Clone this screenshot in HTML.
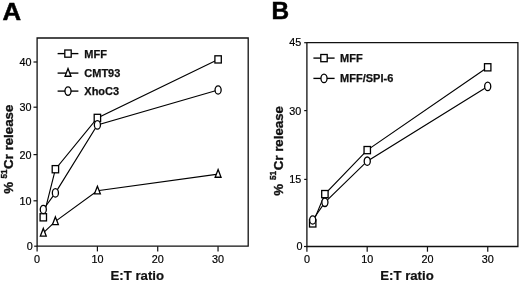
<!DOCTYPE html>
<html><head><meta charset="utf-8"><title>Figure</title>
<style>
html,body{margin:0;padding:0;background:#fff;}
body{width:520px;height:283px;overflow:hidden;}
svg{display:block;will-change:transform;font-family:"Liberation Sans",sans-serif;}
.ax{stroke:#111;stroke-width:1.3;fill:none;}
.tk{stroke:#111;stroke-width:1.2;fill:none;}
.ln{stroke:#000;stroke-width:1.15;fill:none;}
.mk{stroke:#000;stroke-width:1.3;fill:#fff;}
.tl{font-size:10.8px;fill:#000;stroke:#000;stroke-width:0.2;}
.lg{font-size:11px;font-weight:bold;fill:#111;stroke:#111;stroke-width:0.25;}
.at{font-size:13.3px;font-weight:bold;fill:#111;stroke:#111;stroke-width:0.35;}
.xt{font-size:13.2px;font-weight:bold;fill:#111;stroke:#111;stroke-width:0.2;}
.at.sup{font-size:8.2px;stroke-width:0.4;}
.pl{font-size:24.4px;font-weight:bold;fill:#000;stroke:#000;stroke-width:0.5;}
</style></head><body>
<svg width="520" height="283" viewBox="0 0 520 283">
<rect x="0" y="0" width="520" height="283" fill="#fff"/>

<text class="pl" transform="translate(2.45 20.0) scale(1.056 1)">A</text>
<path class="ax" d="M37.1 38.0H248.2V246.2H37.1Z"/>
<path class="tk" d="M37.1 246.2V251.4"/>
<text class="tl" x="37.1" y="263" text-anchor="middle">0</text>
<path class="tk" d="M97.41 246.2V251.4"/>
<text class="tl" x="97.41" y="263" text-anchor="middle">10</text>
<path class="tk" d="M157.73 246.2V251.4"/>
<text class="tl" x="157.73" y="263" text-anchor="middle">20</text>
<path class="tk" d="M218.04 246.2V251.4"/>
<text class="tl" x="218.04" y="263" text-anchor="middle">30</text>
<path class="tk" d="M34.2 246.2H37.1"/>
<text class="tl" x="32.7" y="250" text-anchor="end">0</text>
<path class="tk" d="M33.5 200.8H37.1"/>
<text class="tl" x="31.5" y="205" text-anchor="end">10</text>
<path class="tk" d="M33.5 154.6H37.1"/>
<text class="tl" x="31.5" y="159" text-anchor="end">20</text>
<path class="tk" d="M33.5 107.2H37.1"/>
<text class="tl" x="31.5" y="111" text-anchor="end">30</text>
<path class="tk" d="M33.5 62H37.1"/>
<text class="tl" x="31.5" y="66" text-anchor="end">40</text>
<path class="ln" d="M43.3 217.3L55.4 169.2L97.4 117.9L218.1 59.4"/>
<path class="ln" d="M43.3 209.5L55.4 192.9L97.4 124.9L218.1 90"/>
<path class="ln" d="M43.3 232.9L55.4 221.4L97.4 190.7L218.1 174.1"/>
<rect class="mk" x="40.1" y="213.7" width="6.4" height="7.2"/>
<rect class="mk" x="52.2" y="165.6" width="6.4" height="7.2"/>
<rect class="mk" x="94.2" y="114.3" width="6.4" height="7.2"/>
<rect class="mk" x="214.9" y="55.8" width="6.4" height="7.2"/>
<ellipse class="mk" cx="43.3" cy="209.5" rx="3.05" ry="4.2"/>
<ellipse class="mk" cx="55.4" cy="192.9" rx="3.05" ry="4.2"/>
<ellipse class="mk" cx="97.4" cy="124.9" rx="3.05" ry="4.2"/>
<ellipse class="mk" cx="218.1" cy="90" rx="3.05" ry="4.2"/>
<path class="mk" d="M43.3 228.4L46.25 236.05L40.35 236.05Z"/>
<path class="mk" d="M55.4 216.9L58.35 224.55L52.45 224.55Z"/>
<path class="mk" d="M97.4 186.2L100.35 193.85L94.45 193.85Z"/>
<path class="mk" d="M218.1 169.6L221.05 177.25L215.15 177.25Z"/>
<path class="ln" style="stroke-width:1.35" d="M57.6 53.6H78.4"/>
<rect class="mk" x="64.8" y="50" width="6.4" height="7.2"/>
<text class="lg" x="84.3" y="57.5">MFF</text>
<path class="ln" style="stroke-width:1.35" d="M57.6 73.1H78.4"/>
<path class="mk" d="M68 68.6L70.95 76.25L65.05 76.25Z"/>
<text class="lg" x="84.3" y="77">CMT93</text>
<path class="ln" style="stroke-width:1.35" d="M57.6 91.1H78.4"/>
<ellipse class="mk" cx="68" cy="91.1" rx="3.05" ry="4.2"/>
<text class="lg" x="84.3" y="95">XhoC3</text>
<text class="xt" x="137.3" y="280.3" text-anchor="middle">E:T ratio</text>
<text class="at" transform="translate(13.3 193.7) rotate(-90)">%</text>
<text class="at sup" transform="translate(7.1 178.6) rotate(-90)">51</text>
<text class="at" transform="translate(13.3 169) rotate(-90)">Cr release</text>
<text class="pl" transform="translate(271.4 18.7) scale(1 1)">B</text>
<path class="ax" d="M306.9 42.7H517.9V246.5H306.9Z"/>
<path class="tk" d="M306.9 246.5V251.7"/>
<text class="tl" x="306.9" y="263" text-anchor="middle">0</text>
<path class="tk" d="M367.19 246.5V251.7"/>
<text class="tl" x="367.19" y="263" text-anchor="middle">10</text>
<path class="tk" d="M427.47 246.5V251.7"/>
<text class="tl" x="427.47" y="263" text-anchor="middle">20</text>
<path class="tk" d="M487.76 246.5V251.7"/>
<text class="tl" x="487.76" y="263" text-anchor="middle">30</text>
<path class="tk" d="M304 246.5H306.9"/>
<text class="tl" x="302.5" y="250" text-anchor="end">0</text>
<path class="tk" d="M304.2 179.4H306.9"/>
<text class="tl" x="301.3" y="183" text-anchor="end">15</text>
<path class="tk" d="M304.2 110.6H306.9"/>
<text class="tl" x="301.3" y="115" text-anchor="end">30</text>
<path class="tk" d="M304.2 42.7H306.9"/>
<text class="tl" x="301.3" y="46" text-anchor="end">45</text>
<path class="ln" d="M312.7 223.4L324.9 194.1L367.25 150.1L487.7 67.3"/>
<path class="ln" d="M312.7 220L324.9 202.3L367.25 161.2L487.7 86.4"/>
<rect class="mk" x="309.5" y="219.8" width="6.4" height="7.2"/>
<rect class="mk" x="321.7" y="190.5" width="6.4" height="7.2"/>
<rect class="mk" x="364.05" y="146.5" width="6.4" height="7.2"/>
<rect class="mk" x="484.5" y="63.7" width="6.4" height="7.2"/>
<ellipse class="mk" cx="312.7" cy="220" rx="3.05" ry="4.2"/>
<ellipse class="mk" cx="324.9" cy="202.3" rx="3.05" ry="4.2"/>
<ellipse class="mk" cx="367.25" cy="161.2" rx="3.05" ry="4.2"/>
<ellipse class="mk" cx="487.7" cy="86.4" rx="3.05" ry="4.2"/>
<path class="ln" style="stroke-width:1.35" d="M313.4 58.1H334.6"/>
<rect class="mk" x="320.8" y="54.5" width="6.4" height="7.2"/>
<text class="lg" x="340.1" y="62">MFF</text>
<path class="ln" style="stroke-width:1.35" d="M313.4 78.4H334.6"/>
<ellipse class="mk" cx="324" cy="78.4" rx="3.05" ry="4.2"/>
<text class="lg" x="340.1" y="82.3">MFF/SPI-6</text>
<text class="xt" x="407" y="280.3" text-anchor="middle">E:T ratio</text>
<text class="at" transform="translate(282.6 195.8) rotate(-90)">%</text>
<text class="at sup" transform="translate(276.4 180) rotate(-90)">51</text>
<text class="at" transform="translate(282.6 170.3) rotate(-90)">Cr release</text>
</svg></body></html>
